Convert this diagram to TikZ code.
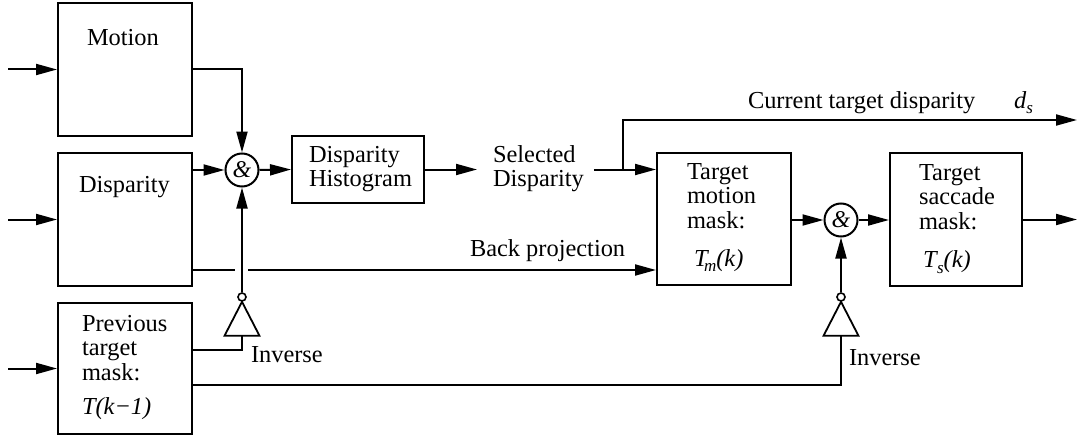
\documentclass[tikz,border=0pt]{standalone}
\usepackage{fontspec}
\setmainfont{Liberation Serif}
\usetikzlibrary{arrows.meta,calc}
\newcommand\mylines[1]{\begin{tabular}[t]{@{}l@{}}#1\end{tabular}}
\newcommand\subtxt[2]{\raisebox{#1}{\fontsize{17}{17}\selectfont\textit{#2}}}
\begin{document}
\begin{tikzpicture}[x=1pt,y=-1pt,
  line width=2pt,
  box/.style={draw,rectangle,inner sep=0pt},
  txt/.style={inner sep=0pt,anchor=base west,font=\fontsize{24.4}{24.5}\selectfont},
  andg/.style={draw,circle,minimum size=33pt,inner sep=0pt,font=\fontsize{24}{24}\selectfont\itshape},
  bub/.style={draw,circle,minimum size=8pt,inner sep=0pt,line width=1.6pt},
  gate/.style={line width=1.8pt,line join=miter},
  arr/.style={-{Triangle[length=21pt,width=11pt]}},
]
\useasboundingbox (0,0) rectangle (1082,436);

% boxes
\node[box,minimum width=134pt,minimum height=133pt] (motion) at (125,69.5) {};
\node[box,minimum width=134pt,minimum height=133pt] (disp) at (125,219.5) {};
\node[box,minimum width=134pt,minimum height=131pt] (prev) at (125,368.5) {};
\node[box,minimum width=132pt,minimum height=67pt] (hist) at (358,169.5) {};
\node[box,minimum width=134pt,minimum height=132pt] (tmm) at (724,219) {};
\node[box,minimum width=132pt,minimum height=133pt] (tsm) at (956,219.5) {};

% texts
\node[txt] (tmotion) at (86,46) {Motion};
\node[txt] (tdisp) at (78,192) {Disparity};
\node[txt] (tprev) at (81,331) {\mylines{Previous\\target\\mask:\\[10pt]\textit{T(k−1)}}};
\node[txt] (thist) at (308,162) {\mylines{Disparity\\Histogram}};
\node[txt] (sel) at (492,162) {\mylines{Selected\\Disparity}};
\node[txt] (ttmm) at (686,179) {\mylines{Target\\motion\\mask:\\[14pt]\hspace{7pt}\textit{T}\kern-5pt\subtxt{-5pt}{m}\textit{(k)}}};
\node[txt] (ttsm) at (918,180) {\mylines{Target\\saccade\\mask:\\[14pt]\hspace{4pt}\textit{T}\kern-1pt\subtxt{-6pt}{s}\textit{(k)}}};
\node[txt] (tback) at (469,256) {Back projection};
\node[txt] (tinv1) at (250,362) {Inverse};
\node[txt] (tinv2) at (848,365) {Inverse};
\node[txt] (tcur) at (747,109) {Current target disparity};
\node[txt] (tds) at (1013,109) {\textit{d}\subtxt{-5pt}{s}};

% and gates
\node[andg] (and1) at (242,170) {\&};
\node[andg] (and2) at (841,220) {\&};

% inverters
\node[bub] (b1) at (242,297) {};
\node[bub] (b2) at (841,297) {};
\coordinate (n1base) at (242,335);
\coordinate (n2base) at (841,335);
\draw[gate] (b1.south) -- ++(-17.5,34) -- ++(35,0) -- cycle;
\draw[gate] (b2.south) -- ++(-17.5,34) -- ++(35,0) -- cycle;

% inputs
\coordinate (in1) at (8,69.5);
\coordinate (in2) at (8,219.5);
\coordinate (in3) at (8,368.5);
\draw[arr] (in1) -- (motion.west);
\draw[arr] (in2) -- (disp.west);
\draw[arr] (in3) -- (prev.west);

% left connectors
\draw[arr] (motion.east) -| (and1.north);
\draw[arr] (disp.east |- and1.west) -- (and1.west);
\draw[arr] (b1.north) -- (and1.south);
\coordinate (p1) at ($(prev.north east)+(0,48)$);
\draw (n1base) |- (p1);
\draw[arr] (and1.east) -- (hist.west);

% histogram to selected disparity
\coordinate (selin) at ($(sel.west |- hist.east)+(-15,0)$);
\draw[arr] (hist.east) -- (selin);
\coordinate (selout) at ($(sel.east |- hist.east)+(9,0)$);
\draw[arr] (selout) -- (selout -| tmm.west);
\coordinate (br) at (623,169.5);
\coordinate (dsend) at (1077,120);
\draw[arr] (br) |- (dsend);

% back projection with crossing gap
\coordinate (bp1) at ($(disp.south east)+(0,-17)$);
\draw (bp1) -- ($(and1.south |- bp1)+(-7,0)$);
\draw[arr] ($(and1.south |- bp1)+(6,0)$) -- (bp1 -| tmm.west);

% previous mask to second inverter
\coordinate (pout) at ($(prev.north east)+(0,83)$);
\draw (pout) -| (n2base);
\draw[arr] (b2.north) -- (and2.south);

% right connectors
\draw[arr] (tmm.east |- and2.west) -- (and2.west);
\draw[arr] (and2.east) -- (tsm.west |- and2.east);
\coordinate (out) at (1077,219.5);
\draw[arr] (tsm.east) -- (out);
\end{tikzpicture}
\end{document}
